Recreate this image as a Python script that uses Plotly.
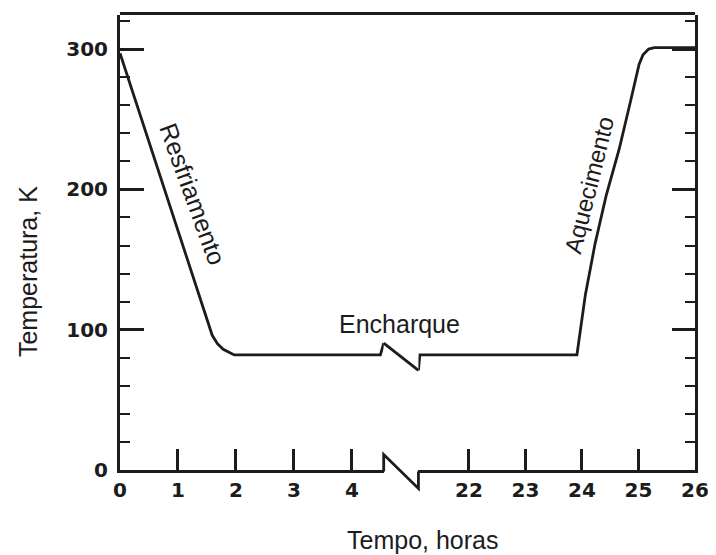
import plotly.graph_objects as go

# ---------------- data ----------------
# first segment of the time axis: 0 .. ~4.5 h (cooling + start of soak)
cool_hours = [0.0, 1.59, 1.68, 1.78, 1.97, 3.0, 4.0, 4.49]
cool_temp = [297, 96, 90, 86, 82, 82, 82, 82]
# second segment of the time axis: ~21 .. 26 h (end of soak + heating)
heat_hours = [21.13, 22.0, 23.0, 23.91, 24.06, 24.23, 24.43, 24.66, 24.86, 25.01, 25.08, 25.18, 25.28, 26.0]
heat_temp = [82, 82, 82, 82, 125, 161, 196, 229, 263, 289, 296, 300, 301, 301]

left_ticks = [0, 1, 2, 3, 4]
left_ticktext = ["0", "1", "2", "3", "4"]
right_ticks = [22, 23, 24, 25, 26]
right_ticktext = ["22", "23", "24", "25", "26"]
y_ticks = [0, 100, 200, 300]
y_ticktext = ["0", "100", "200", "300"]

soak_level = 82          # K, level of the soak plateau at the break
break_up = 8.5           # K, height of the zig-zag above the plateau
break_down = 11          # K, depth of the zig-zag below the plateau

# ---------------- layout constants ----------------
LEFT_RANGE = [0, 4.547]
RIGHT_RANGE = [21.105, 26.0]
Y_RANGE = [0, 324.3]
LEFT_DOM = [0, 0.4586]
RIGHT_DOM = [0.519, 1.0]
INK = "#1c1c1c"
TICKFONT = dict(family="DejaVu Sans", size=20, color=INK, weight="bold")
TEXTFONT = dict(family="Liberation Sans, Arial", size=25, color=INK)
PX = 1 / 455.0           # one pixel in paper-y units

x_left = cool_hours + [LEFT_RANGE[1]]
y_left = cool_temp + [soak_level + break_up]
x_right = [RIGHT_RANGE[0]] + heat_hours
y_right = [soak_level - break_down] + heat_temp

fig = go.Figure()
fig.add_trace(go.Scatter(x=x_left, y=y_left, mode="lines", xaxis="x", yaxis="y",
                         line=dict(color=INK, width=2.8), showlegend=False, hoverinfo="skip"))
fig.add_trace(go.Scatter(x=x_right, y=y_right, mode="lines", xaxis="x2", yaxis="y2",
                         line=dict(color=INK, width=2.8),
                         showlegend=False, hoverinfo="skip"))

tick_style = dict(showgrid=False, zeroline=False, showline=True, linecolor=INK, linewidth=3,
                  ticks="inside", ticklen=21, tickwidth=2.5, tickcolor=INK)
common_y = dict(showgrid=False, zeroline=False, showline=True, linecolor=INK, linewidth=3,
                range=Y_RANGE, domain=[0, 1])

fig.update_layout(
    width=708, height=547,
    margin=dict(l=112, r=16, t=7, b=85),
    paper_bgcolor="white", plot_bgcolor="white",
    xaxis=dict(domain=LEFT_DOM, range=LEFT_RANGE, tickmode="array", tickvals=left_ticks,
               ticktext=left_ticktext, anchor="y", side="bottom", tickfont=TICKFONT, **tick_style),
    xaxis2=dict(domain=RIGHT_DOM, range=RIGHT_RANGE, tickmode="array", tickvals=right_ticks,
                ticktext=right_ticktext, anchor="y2", side="bottom", tickfont=TICKFONT, **tick_style),
    # top edge: tick marks only
    xaxis3=dict(overlaying="x", anchor="y", side="top", range=LEFT_RANGE, tickmode="array",
                tickvals=left_ticks, showticklabels=False, **tick_style),
    xaxis4=dict(overlaying="x2", anchor="y2", side="top", range=RIGHT_RANGE, tickmode="array",
                tickvals=right_ticks, showticklabels=False, **tick_style),
    yaxis=dict(anchor="x", side="left", tickmode="array", tickvals=y_ticks, ticktext=y_ticktext,
               ticks="inside", ticklen=24, tickwidth=2.5, tickcolor=INK,
               tickfont=TICKFONT, ticklabelstandoff=5,
               minor=dict(dtick=20, tick0=0, ticks="inside", ticklen=10, tickwidth=2.2, tickcolor=INK),
               **common_y),
    yaxis2=dict(anchor="x2", side="right", tickmode="array", tickvals=y_ticks[1:], showticklabels=False,
                ticks="inside", ticklen=23, tickwidth=2.5, tickcolor=INK,
                minor=dict(dtick=20, tick0=0, ticks="inside", ticklen=10, tickwidth=2.2, tickcolor=INK),
                **common_y),
)

# continuous top frame (aligned with the top axis lines)
fig.add_shape(type="line", xref="paper", yref="paper", x0=0, x1=1, y0=1 + 1.5 * PX, y1=1 + 1.5 * PX,
              line=dict(color=INK, width=3))
# zig-zag break on the curve
fig.add_shape(type="line", xref="paper", yref="y",
              x0=LEFT_DOM[1], y0=soak_level + break_up, x1=RIGHT_DOM[0], y1=soak_level - break_down,
              line=dict(color=INK, width=2.8))
# zig-zag break on the time axis
b0 = -1.5 * PX
fig.add_shape(type="path", xref="paper", yref="paper",
              path=(f"M {LEFT_DOM[1]},{b0} L {LEFT_DOM[1]},{b0 + 17 * PX} "
                    f"L {RIGHT_DOM[0]},{b0 - 17 * PX} L {RIGHT_DOM[0]},{b0}"),
              line=dict(color=INK, width=2.8))

# labels
fig.add_annotation(text="Resfriamento", xref="x", yref="y", x=1.26, y=197, showarrow=False,
                   textangle=70, font=TEXTFONT, xanchor="center", yanchor="middle")
fig.add_annotation(text="Aquecimento", xref="x2", yref="y2", x=24.12, y=203, showarrow=False,
                   textangle=-76, font=dict(TEXTFONT, size=24), xanchor="center", yanchor="middle")
fig.add_annotation(text="Encharque", xref="paper", yref="y", x=0.486, y=104, showarrow=False,
                   font=TEXTFONT, xanchor="center", yanchor="middle")
fig.add_annotation(text="Tempo, horas", xref="paper", yref="paper", x=0.526, y=-0.154,
                   showarrow=False, font=TEXTFONT, xanchor="center", yanchor="middle")
fig.add_annotation(text="Temperatura, K", xref="paper", yref="paper", x=-0.160, y=0.435,
                   showarrow=False, textangle=-90, font=TEXTFONT, xanchor="center", yanchor="middle")

fig.write_html("out.html")
